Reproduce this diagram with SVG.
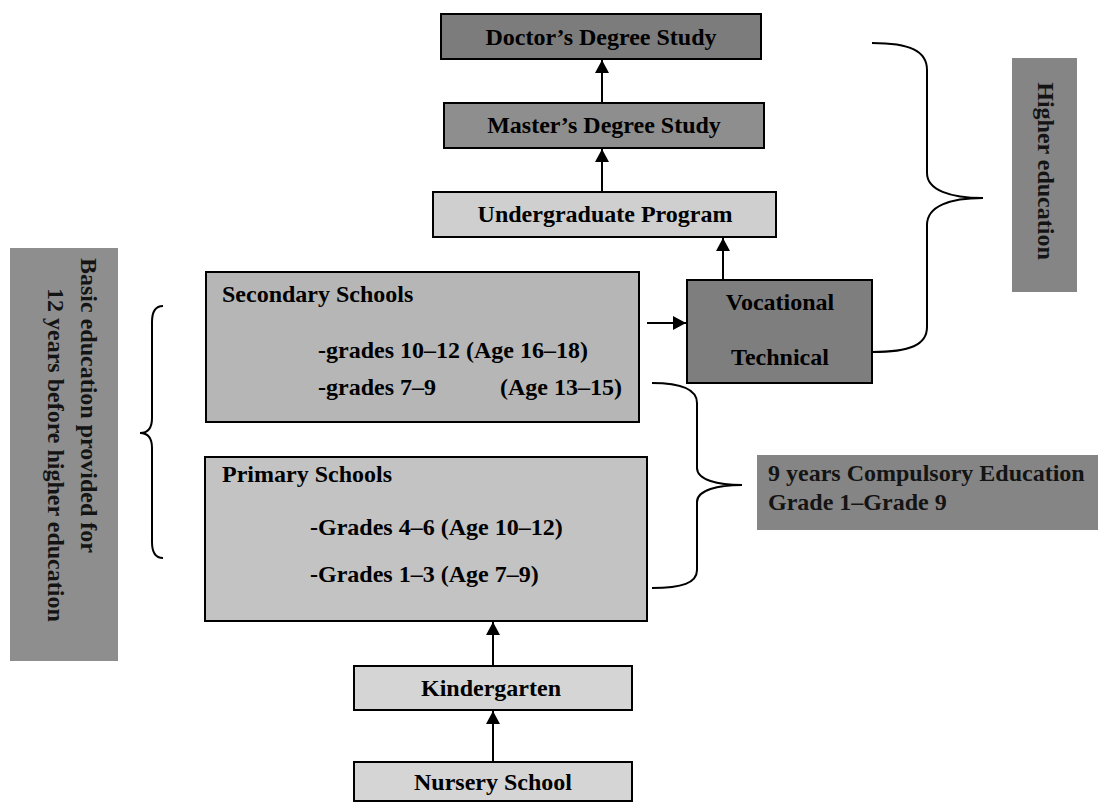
<svg xmlns="http://www.w3.org/2000/svg" width="1106" height="802" viewBox="0 0 1106 802">
  <style>
    .box { stroke: #000; stroke-width: 2; }
    .lbl { font-family: "Liberation Serif", "Times New Roman", serif; font-weight: bold; font-size: 24px; fill: #000; }
    .mid { text-anchor: middle; }
    .side { fill: #141414; }
    .edge { stroke: #000; stroke-width: 2; fill: none; }
    .brace { stroke: #000; stroke-width: 2; fill: none; }
  </style>
  <defs>
    <marker id="arrow" markerUnits="userSpaceOnUse" markerWidth="14" markerHeight="14" refX="13" refY="7" orient="auto">
      <path d="M0,0 L13,7 L0,14 z" fill="#000"/>
    </marker>
  </defs>
  <rect width="1106" height="802" fill="#fff"/>

  <!-- Higher education stages -->
  <g id="doctor">
    <rect class="box" x="441" y="14" width="320" height="45" fill="#7c7c7c"/>
    <text class="lbl mid" x="601" y="45">Doctor’s Degree Study</text>
  </g>
  <g id="master">
    <rect class="box" x="444" y="103" width="320" height="45" fill="#8e8e8e"/>
    <text class="lbl mid" x="604" y="133">Master’s Degree Study</text>
  </g>
  <g id="undergraduate">
    <rect class="box" x="433" y="192" width="343" height="45" fill="#cfcfcf"/>
    <text class="lbl mid" x="605" y="222">Undergraduate Program</text>
  </g>
  <g id="vocational">
    <rect class="box" x="687" y="280" width="185" height="103" fill="#7e7e7e"/>
    <text class="lbl mid" x="780" y="310">Vocational</text>
    <text class="lbl mid" x="780" y="365">Technical</text>
  </g>

  <!-- School levels -->
  <g id="secondary">
    <rect class="box" x="206" y="272" width="433" height="150" fill="#b6b6b6"/>
    <text class="lbl" x="222" y="302">Secondary Schools</text>
    <text class="lbl" x="318" y="358">-grades 10–12 (Age 16–18)</text>
    <text class="lbl" x="318" y="395">-grades 7–9</text>
    <text class="lbl" x="500" y="395">(Age 13–15)</text>
  </g>
  <g id="primary">
    <rect class="box" x="205" y="457" width="442" height="164" fill="#c3c3c3"/>
    <text class="lbl" x="222" y="482">Primary Schools</text>
    <text class="lbl" x="310" y="535">-Grades 4–6 (Age 10–12)</text>
    <text class="lbl" x="310" y="582">-Grades 1–3 (Age 7–9)</text>
  </g>
  <g id="kindergarten">
    <rect class="box" x="354" y="666" width="278" height="44" fill="#d5d5d5"/>
    <text class="lbl mid" x="491" y="696">Kindergarten</text>
  </g>
  <g id="nursery">
    <rect class="box" x="354" y="762" width="278" height="39" fill="#d5d5d5"/>
    <text class="lbl mid" x="493" y="790">Nursery School</text>
  </g>

  <!-- Side captions -->
  <g id="higher-education">
    <rect x="1012" y="58" width="65" height="234" fill="#858585"/>
    <text class="lbl mid side" font-size="22" transform="translate(1038,171) rotate(90)">Higher education</text>
  </g>
  <g id="basic-education">
    <rect x="10" y="248" width="108" height="413" fill="#8e8e8e"/>
    <text class="lbl side" transform="translate(81,258) rotate(90)">Basic education provided for</text>
    <text class="lbl side" font-size="22.5" transform="translate(48,288) rotate(90)">12 years before higher education</text>
  </g>
  <g id="compulsory">
    <rect x="757" y="455" width="341" height="75" fill="#858585"/>
    <text class="lbl side" x="768" y="481">9 years Compulsory Education</text>
    <text class="lbl side" x="768" y="510">Grade 1–Grade 9</text>
  </g>

  <!-- Connectors and braces -->
  <g id="connectors">
    <line class="edge" x1="602" y1="103" x2="602" y2="60" marker-end="url(#arrow)"/>
    <line class="edge" x1="602" y1="192" x2="602" y2="149" marker-end="url(#arrow)"/>
    <line class="edge" x1="723" y1="280" x2="723" y2="238" marker-end="url(#arrow)"/>
    <line class="edge" x1="647" y1="323" x2="686" y2="323" marker-end="url(#arrow)"/>
    <line class="edge" x1="493" y1="666" x2="493" y2="622" marker-end="url(#arrow)"/>
    <line class="edge" x1="493" y1="762" x2="493" y2="711" marker-end="url(#arrow)"/>
    <path class="brace" d="M163,306 C156,306 152,311 152,322 L152,418 C152,428 148,433 140,433 C148,433 152,438 152,448 L152,542 C152,553 156,558 163,558"/>
    <path class="brace" d="M652,383 C682,383 697,389 697,403 L697,468 C697,480 718,485 742,485 C718,485 697,490 697,502 L697,570 C697,583 682,588 652,588"/>
    <path class="brace" d="M872,43 C910,43 927,51 927,70 L927,173 C927,190 950,198 983,198 C950,198 927,206 927,225 L927,327 C927,345 910,352 872,352"/>
  </g>
</svg>
